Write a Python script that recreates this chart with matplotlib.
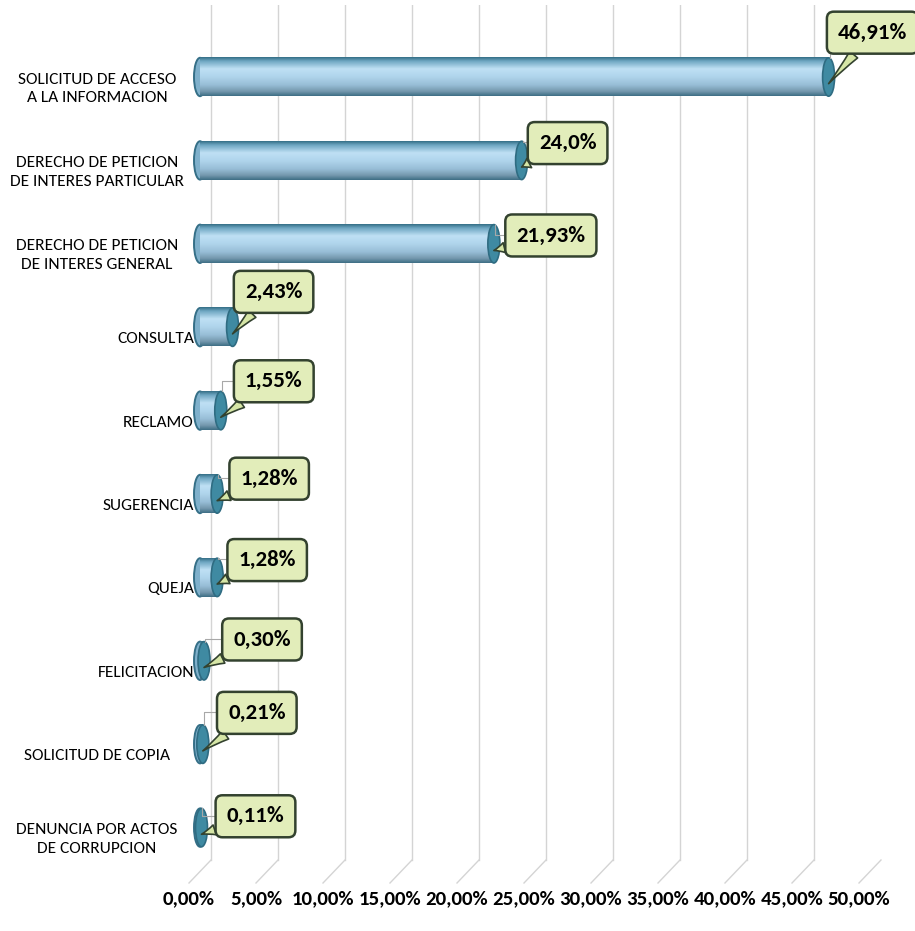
import numpy as np
import matplotlib
matplotlib.use('Agg')
import matplotlib.pyplot as plt
from matplotlib import font_manager
from matplotlib.patches import Ellipse
from matplotlib.colors import LinearSegmentedColormap

categorias = ['SOLICITUD DE ACCESO\nA LA INFORMACION',
              'DERECHO DE PETICION\nDE INTERES PARTICULAR',
              'DERECHO DE PETICION\nDE INTERES GENERAL',
              'CONSULTA', 'RECLAMO', 'SUGERENCIA', 'QUEJA', 'FELICITACION',
              'SOLICITUD DE COPIA',
              'DENUNCIA POR ACTOS\nDE CORRUPCION']
valores = [46.91, 24.0, 21.93, 2.43, 1.55, 1.28, 1.28, 0.30, 0.21, 0.11]
etiquetas = ['46,91%', '24,0%', '21,93%', '2,43%', '1,55%', '1,28%', '1,28%',
             '0,30%', '0,21%', '0,11%']
ticks = [0, 5, 10, 15, 20, 25, 30, 35, 40, 45, 50]
tick_labels = ['0,00%', '5,00%', '10,00%', '15,00%', '20,00%', '25,00%',
               '30,00%', '35,00%', '40,00%', '45,00%', '50,00%']

# callout offsets (pixels) relative to bar end
offs = [(44, 51), (46, 24), (57, 15), (41, 42), (53, 36), (52, 22), (50, 24),
        (58, 28), (54, 38), (54, 18)]

# pick a narrow font if one is installed
names = set(f.name for f in font_manager.fontManager.ttflist)
stretch = 'normal'
FONT = None
for cand in ['Carlito', 'Roboto Condensed', 'Liberation Sans Narrow', 'Open Sans Condensed',
             'DejaVu Sans Condensed']:
    if cand in names:
        FONT = [cand, 'DejaVu Sans']
        break
if FONT is None:
    if any(f.name == 'DejaVu Sans' and f.stretch == 'condensed' for f in font_manager.fontManager.ttflist):
        FONT = ['DejaVu Sans']
        stretch = 'condensed'
    else:
        FONT = ['Roboto', 'DejaVu Sans']

W, H = 915, 931
fig = plt.figure(figsize=(W / 100, H / 100), dpi=100)
x0px, x50px = 189, 859
ytop, ybot = 5, 883
ax = fig.add_axes([x0px / W, (H - ybot) / H, (x50px - x0px) / W, (ybot - ytop) / H])
ypu = 83.4  # px per category
xpu = (x50px - x0px) / 50.0  # px per percent
for s in ax.spines.values():
    s.set_visible(False)

# gridlines (back wall + floor diagonal)
back = 22 / xpu
yfloor = (860 - 77) / ypu
yfront = (ybot - 77) / ypu
ylo = (ytop - 77) / ypu
for t in ticks:
    ax.plot([t + back, t + back], [ylo, yfloor], color='#d4d4d4', lw=1, zorder=0)
    ax.plot([t + back, t], [yfloor, yfront], color='#d4d4d4', lw=1, zorder=0,
            clip_on=False)

cmap = LinearSegmentedColormap.from_list('cyl', [
    (0.0, '#356f87'), (0.1, '#6ea6c2'), (0.3, '#bfe0f4'), (0.5, '#b0d5ec'),
    (0.72, '#97bdd6'), (0.88, '#7598ae'), (1.0, '#3e6e85')])
grad = np.linspace(0, 1, 200).reshape(-1, 1)

mid = 11 / xpu
bh = 0.46
capw = 12 / xpu
for i, v in enumerate(valores):
    ax.add_patch(Ellipse((mid, i), capw, bh, fc='#7fb0cb', ec='#356f87', lw=1.4, zorder=2))
    ax.imshow(grad, extent=[mid, mid + v, i - bh / 2, i + bh / 2], origin='lower',
              aspect='auto', cmap=cmap, zorder=3, interpolation='bilinear')
    ax.add_patch(Ellipse((mid + v, i), capw, bh, fc='#3f8aa2', ec='#2f6c82', lw=1.2, zorder=4))

ax.set_xlim(0, 50)
ax.set_ylim((ybot - 77) / ypu, (ytop - 77) / ypu)

# callouts
for i, (v, lab) in enumerate(zip(valores, etiquetas)):
    dx, dy = offs[i]
    ex = mid + v
    # thin leader line
    bx = ex + (dx - 36) / xpu
    by = i - (dy - 6) / ypu
    ax.plot([ex + 1 / xpu, ex + 1 / xpu, bx], [i - bh / 2, by, by], color='#a8a8a8',
            lw=0.8, zorder=4, clip_on=False)
    ax.annotate(lab, xy=(ex, i + 0.08), xytext=(dx, dy), textcoords='offset pixels',
                ha='center', va='center', fontsize=16.5, fontweight='bold',
                family=FONT, fontstretch=stretch, color='black', zorder=6,
                annotation_clip=False,
                bbox=dict(boxstyle='round,pad=0.48,rounding_size=0.3',
                          fc='#e2edba', ec='#33422f', lw=1.8),
                arrowprops=dict(arrowstyle='wedge,tail_width=0.45,shrink_factor=0.4',
                                fc='#d6e6a6', ec='#33422f', lw=1.2,
                                shrinkA=0, shrinkB=0))

# category labels
for i, c in enumerate(categorias):
    longest = max(len(s) for s in c.split('\n'))
    yf = 1 - (77 + ypu * i + 12) / H
    if longest > 15:
        fig.text(97 / W, yf, c, ha='center', va='center', fontsize=12.5, family=FONT,
                 fontstretch=stretch, multialignment='center', linespacing=1.45)
    else:
        fig.text(194 / W, yf, c, ha='right', va='center', fontsize=12.5, family=FONT,
                 fontstretch=stretch)

ax.set_yticks([])
ax.set_xticks(ticks)
ax.set_xticklabels(tick_labels, fontsize=15, fontweight='bold', family=FONT,
                   fontstretch=stretch)
ax.tick_params(axis='x', length=0, pad=5)

fig.savefig('out.png', dpi=100)
